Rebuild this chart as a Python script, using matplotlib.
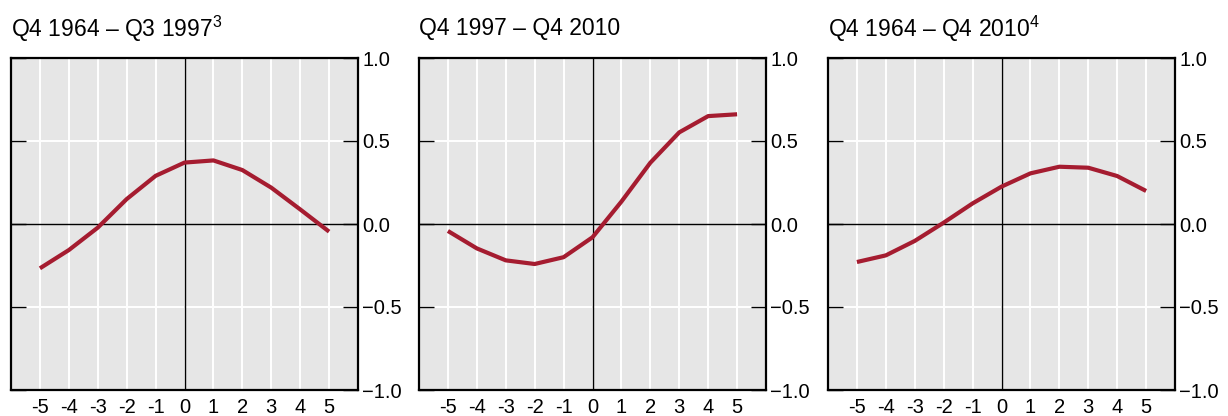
import numpy as np
import matplotlib.pyplot as plt

plt.rcParams['font.family'] = ['Liberation Sans', 'DejaVu Sans']
plt.rcParams['mathtext.fontset'] = 'custom'
plt.rcParams['mathtext.rm'] = 'Liberation Sans'

# quarters relative to the reference quarter
lags = [-5, -4, -3, -2, -1, 0, 1, 2, 3, 4, 5]
lag_labels = ['-5', '-4', '-3', '-2', '-1', '0', '1', '2', '3', '4', '5']

titles = ['Q4 1964 – Q3 1997$^{3}$', 'Q4 1997 – Q4 2010', 'Q4 1964 – Q4 2010$^{4}$']

corr_early = [-0.267, -0.157, -0.022, 0.15, 0.29, 0.37, 0.383, 0.325, 0.219, 0.088, -0.046]
corr_late = [-0.042, -0.147, -0.219, -0.241, -0.2, -0.08, 0.135, 0.369, 0.552, 0.65, 0.661]
corr_full = [-0.229, -0.189, -0.102, 0.008, 0.124, 0.225, 0.305, 0.345, 0.339, 0.289, 0.199]

y_ticks = [-1.0, -0.5, 0.0, 0.5, 1.0]
y_labels = ['\u22121.0', '\u22120.5', '0.0', '0.5', '1.0']

line_col = '#A51C30'
bg_col = '#E6E6E6'

fig = plt.figure(figsize=(12.28, 4.16), dpi=100)
lefts = [11, 419, 828]
series = [corr_early, corr_late, corr_full]

for left, title, vals in zip(lefts, titles, series):
    ax = fig.add_axes([left / 1228, 26 / 416, 347 / 1228, 332 / 416])
    ax.set_facecolor(bg_col)
    ax.set_xlim(-6, 6)
    ax.set_ylim(-1, 1)

    # white grid
    for x in lags:
        ax.axvline(x, color='white', lw=1.4, zorder=1)
    for y in [-0.5, 0.5]:
        ax.axhline(y, color='white', lw=1.4, zorder=1)
    ax.axhline(0, color='black', lw=1.0, zorder=2)
    ax.axvline(0, color='black', lw=1.0, zorder=2)

    ax.plot(lags, vals, color=line_col, lw=3.0, zorder=3, solid_capstyle='butt')

    ax.set_xticks(lags)
    ax.set_xticklabels(lag_labels, fontsize=14.5)
    ax.tick_params(axis='x', length=0, pad=6)

    ax.set_yticks(y_ticks)
    ax.set_yticklabels(y_labels, fontsize=14.5)
    ax.tick_params(axis='y', direction='in', length=11, width=1, left=True, right=True,
                   labelleft=False, labelright=True, pad=3)

    for sp in ax.spines.values():
        sp.set_linewidth(1.6)
        sp.set_color('black')

    fig.text(left / 1228, 1 - 29 / 416, title, fontsize=16.5, ha='left', va='center')

fig.savefig('out.png', dpi=100)
